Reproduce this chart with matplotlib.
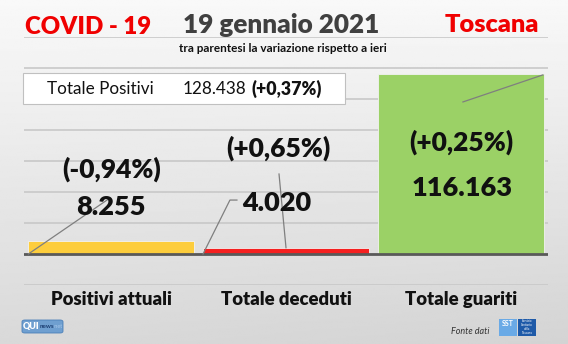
import numpy as np
import matplotlib
matplotlib.use("Agg")
import matplotlib.pyplot as plt
from matplotlib.patches import Rectangle, FancyBboxPatch

plt.rcParams['font.family'] = ['Lato', 'DejaVu Sans']

# ---- data ----
categories = ["Positivi attuali", "Totale deceduti", "Totale guariti"]
values = [8255, 4020, 116163]
value_labels = ["8.255", "4.020", "116.163"]
change_labels = ["(-0,94%)", "(+0,65%)", "(+0,25%)"]
bar_colors = ["#fdcd3c", "#f52020", "#9bd166"]
total_label = "Totale Positivi"
total_value = "128.438"
total_change = "(+0,37%)"
title_left = "COVID - 19"
title_date = "19 gennaio 2021"
title_right = "Toscana"
subtitle = "tra parentesi la variazione rispetto a ieri"

W, H = 568, 344
fig = plt.figure(figsize=(W / 100, H / 100), dpi=100)

def fx(px):
    return px / W

def fy(py):
    return 1 - py / H

# background gradient
bg = fig.add_axes([0, 0, 1, 1], zorder=-10)
yy, xx = np.mgrid[0:1:200j, 0:1:300j]
grad = 0.975 - 0.125 * yy - 0.02 * xx * yy
bg.imshow(grad, cmap="gray", vmin=0, vmax=1, aspect="auto", extent=[0, 1, 0, 1], origin="upper")
bg.set_axis_off()

ax = fig.add_axes([fx(24), fy(285), fx(524), 248 / H])
ax.set_facecolor("none")
x = np.arange(len(categories))
ax.set_xlim(-0.5, 2.5)
ax.set_ylim(-20000, 140000)
for v in range(-20000, 140001, 20000):
    ax.axhline(v, color="#c8c8c8", lw=1.2, zorder=0)
ax.axhline(0, color="#595959", lw=2, zorder=3)
bars = ax.bar(x, values, width=0.95, color=bar_colors, edgecolor="#f2f2f2", linewidth=0.6, zorder=2)
for s in ax.spines.values():
    s.set_visible(False)
ax.set_yticks([])
ax.set_xticks(x)
ax.set_xticklabels(categories, fontsize=13.3, fontweight="heavy", color="#111111")
ax.tick_params(axis="x", length=0, pad=4.5)

# label placement (layout offsets, in data units)
chg_pos = [(0.0, 54800), (0.954, 68400), (2.002, 72300)]
val_pos = [(0.0, 30300), (0.948, 32900), (2.007, 42600)]
for (cx, cy), t in zip(chg_pos, change_labels):
    ax.text(cx, cy, t, ha="center", va="center", fontsize=19, fontweight="heavy", color="#111111", zorder=5)
for (cx, cy), t in zip(val_pos, value_labels):
    ax.text(cx, cy, t, ha="center", va="center", fontsize=19.5, fontweight="heavy", color="#111111", zorder=5)

# leader lines
lc = "#7f7f7f"
b0, b1, b2 = bars
ax.plot([b0.get_x(), -0.008], [0, 36100], color=lc, lw=0.9, zorder=4)
ax.plot([b1.get_x(), 0.679, 0.719], [0, 34800, 34800], color=lc, lw=0.9, zorder=4)
ax.plot([b1.get_x() + b1.get_width() / 2, 0.96], [values[1], 51600], color=lc, lw=0.9, zorder=4)
ax.plot([2.013, b2.get_x() + b2.get_width() - 0.004], [98100, values[2] - 600], color=lc, lw=0.9, zorder=4)

# titles
fig.text(fx(88.5), fy(27), title_left, ha="center", va="center", fontsize=17.3, fontweight="heavy", color="#f00000")
fig.text(fx(281), fy(25), title_date, ha="center", va="center", fontsize=18.8, fontweight="heavy", color="#404040")
fig.text(fx(492), fy(25), title_right, ha="center", va="center", fontsize=18.3, fontweight="heavy", color="#f00000")
fig.text(fx(283), fy(48), subtitle, ha="center", va="center", fontsize=8.5, fontweight="bold", color="#111111")

# total box
fig.add_artist(Rectangle((fx(23), fy(104)), fx(322), 31 / H, facecolor="white", edgecolor="#c0c0c0", lw=0.8, zorder=6))
fig.text(fx(47), fy(88.5), total_label, ha="left", va="center", fontsize=12.3, color="#111111", zorder=7)
fig.text(fx(183), fy(88.5), total_value, ha="left", va="center", fontsize=12.3, color="#111111", zorder=7)
fig.text(fx(252), fy(88.5), total_change, ha="left", va="center", fontsize=12.8, fontweight="heavy", color="#111111", zorder=7)

# footer logos
fig.add_artist(FancyBboxPatch((fx(22), fy(333)), fx(41), 13 / H, boxstyle="round,pad=0,rounding_size=0.005",
                              facecolor="#6f9fd0", edgecolor="#4a7fb8", lw=0.6, zorder=6))
fig.text(fx(23), fy(326.5), "QUI", ha="left", va="center", fontsize=6.5, fontweight="heavy", color="white", zorder=7)
fig.text(fx(40), fy(327), "news", ha="left", va="center", fontsize=4.5, fontweight="bold", color="#1d3f73", zorder=7)
fig.text(fx(53.5), fy(327), ".net", ha="left", va="center", fontsize=4, color="#a9c8ea", zorder=7)

fig.text(fx(470), fy(332), "Fonte dati", ha="center", va="center", fontsize=6.5, style="italic", color="#333333")
fig.add_artist(Rectangle((fx(499), fy(336)), fx(18), 17 / H, facecolor="#6aaae6", edgecolor="none", zorder=6))
fig.add_artist(Rectangle((fx(518), fy(336)), fx(18), 17 / H, facecolor="#1e5aa8", edgecolor="none", zorder=6))
fig.text(fx(508), fy(323), "SST", ha="center", va="center", fontsize=5, fontweight="bold", color="white", zorder=7)
fig.text(fx(527), fy(327.5), "Servizio\nSanitario\ndella\nToscana", ha="center", va="center", fontsize=2.2,
         color="white", zorder=7, linespacing=1.0)

fig.savefig("out.png", dpi=100)
